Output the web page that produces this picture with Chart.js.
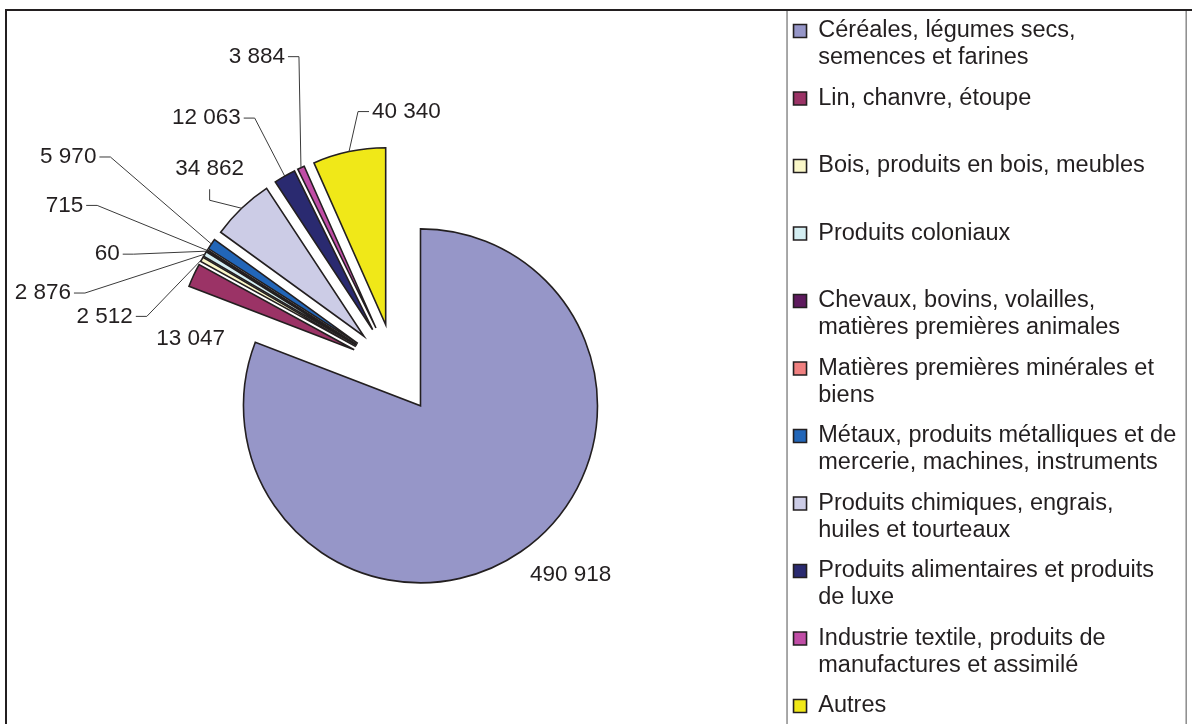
<!DOCTYPE html>
<html>
<head>
<meta charset="utf-8">
<script src="https://cdn.jsdelivr.net/npm/chart.js@4.4.1/dist/chart.umd.min.js"></script>
<style>
  html, body { margin: 0; padding: 0; background: #fff; overflow: hidden; }
  #wrap { position: relative; width: 1192px; height: 760px; }
</style>
</head>
<body>
<div id="wrap"><canvas id="canvas"></canvas></div>
<script>
// legend text, already broken into the lines shown in the legend
var categories = [
  ['Céréales, légumes secs,', 'semences et farines'],
  ['Lin, chanvre, étoupe', ''],
  ['Bois, produits en bois, meubles', ''],
  ['Produits coloniaux', ''],
  ['Chevaux, bovins, volailles,', 'matières premières animales'],
  ['Matières premières minérales et', 'biens'],
  ['Métaux, produits métalliques et de', 'mercerie, machines, instruments'],
  ['Produits chimiques, engrais,', 'huiles et tourteaux'],
  ['Produits alimentaires et produits', 'de luxe'],
  ['Industrie textile, produits de', 'manufactures et assimilé'],
  'Autres'
];
var tonnes = [490918, 13047, 2512, 2876, 60, 715, 5970, 34862, 12063, 3884, 40340];

var colours = ['#9696c8', '#9b3366', '#faf7c8', '#d4eef2', '#5e1a5e', '#f08080',
               '#2266b8', '#cccce6', '#2a2a70', '#c04da6', '#f0e818'];

// where each value label sits: elbow of the leader line relative to the slice edge
var placement = [
  {mode: 'free', dx: 50, dy: 23},
  {mode: 'free', dx: -3, dy: 64},
  {mode: 'left', ex: -55, ey: 57},
  {mode: 'left', ex: -120, ey: 39},
  {mode: 'left', ex: -73, ey: 3},
  {mode: 'left', ex: -110, ey: -45},
  {mode: 'left', ex: -101, ey: -87},
  {mode: 'up', ex: -32, ey: -8},
  {mode: 'left', ex: -30, ey: -58},
  {mode: 'left', ex: -2, ey: -111},
  {mode: 'right', ex: 9, ey: -40}
];

var ink = '#231f20';
var explodePx = 45;

function fmt(n) {
  return String(n).replace(/\B(?=(\d{3})+(?!\d))/g, ' ');
}

// pull every slice out along its bisector, like an exploded pie
var explode = {
  id: 'explode',
  afterDatasetsUpdate: function(chart) {
    chart.getDatasetMeta(0).data.forEach(function(arc) {
      var mid = (arc.startAngle + arc.endAngle) / 2;
      arc.x += Math.cos(mid) * explodePx;
      arc.y += Math.sin(mid) * explodePx;
    });
  }
};

var leaderLabels = {
  id: 'leaderLabels',
  afterDatasetsDraw: function(chart) {
    var ctx = chart.ctx;
    var stub = 11;
    ctx.save();
    ctx.font = '22.5px "Liberation Sans", Arial, sans-serif';
    ctx.fillStyle = ink;
    ctx.strokeStyle = '#3a3a3a';
    ctx.lineWidth = 1;
    ctx.textBaseline = 'middle';
    chart.getDatasetMeta(0).data.forEach(function(arc, i) {
      var mid = (arc.startAngle + arc.endAngle) / 2;
      var ax = arc.x + Math.cos(mid) * arc.outerRadius;
      var ay = arc.y + Math.sin(mid) * arc.outerRadius;
      var p = placement[i];
      var text = fmt(tonnes[i]);
      if (p.mode === 'free') {
        ctx.textAlign = 'center';
        ctx.fillText(text, ax + p.dx, ay + p.dy);
        return;
      }
      var ex = ax + p.ex, ey = ay + p.ey;
      var sx = ex, sy = ey;
      if (p.mode === 'left') sx = ex - stub;
      else if (p.mode === 'right') sx = ex + stub;
      else sy = ey - stub;
      ctx.beginPath();
      ctx.moveTo(sx, sy);
      ctx.lineTo(ex, ey);
      ctx.lineTo(ax, ay);
      ctx.stroke();
      if (p.mode === 'left') {
        ctx.textAlign = 'right';
        ctx.fillText(text, sx - 3, sy);
      } else if (p.mode === 'right') {
        ctx.textAlign = 'left';
        ctx.fillText(text, sx + 3, sy);
      } else {
        ctx.textAlign = 'center';
        ctx.fillText(text, sx, sy - 20);
      }
    });
    ctx.restore();
  }
};

// outer frame and the grey box round the legend
var frame = {
  id: 'frame',
  afterDraw: function(chart) {
    var ctx = chart.ctx;
    var lg = chart.legend;
    ctx.save();
    ctx.strokeStyle = ink;
    ctx.lineWidth = 2;
    ctx.beginPath();
    ctx.moveTo(6, chart.height);
    ctx.lineTo(6, 10);
    ctx.lineTo(chart.width, 10);
    ctx.stroke();
    ctx.strokeStyle = '#8c8c8c';
    ctx.lineWidth = 1.5;
    ctx.beginPath();
    ctx.moveTo(lg.left + 7, 11);
    ctx.lineTo(lg.left + 7, chart.height);
    ctx.moveTo(lg.right, 11);
    ctx.lineTo(lg.right, chart.height);
    ctx.stroke();
    ctx.restore();
  }
};

Chart.defaults.font.family = '"Liberation Sans", Arial, sans-serif';
Chart.defaults.color = ink;

var ctx = document.getElementById('canvas').getContext('2d');
var myChart = new Chart(ctx, {
  type: 'pie',
  data: {
    labels: categories,
    datasets: [{
      data: tonnes,
      backgroundColor: colours,
      borderColor: ink,
      borderWidth: 1.6,
      borderJoinStyle: 'miter'
    }]
  },
  options: {
    responsive: true,
    maintainAspectRatio: false,
    animation: false,
    events: [],
    radius: 177,
    layout: {
      padding: {top: 5.75, left: 10, right: 5.8, bottom: 28.25}
    },
    plugins: {
      tooltip: {enabled: false},
      legend: {
        position: 'right',
        align: 'start',
        labels: {
          boxWidth: 13,
          boxHeight: 13,
          padding: 13.5,
          font: {size: 23.5, lineHeight: '27px'}
        }
      }
    }
  },
  plugins: [explode, leaderLabels, frame]
});
</script>
</body>
</html>
